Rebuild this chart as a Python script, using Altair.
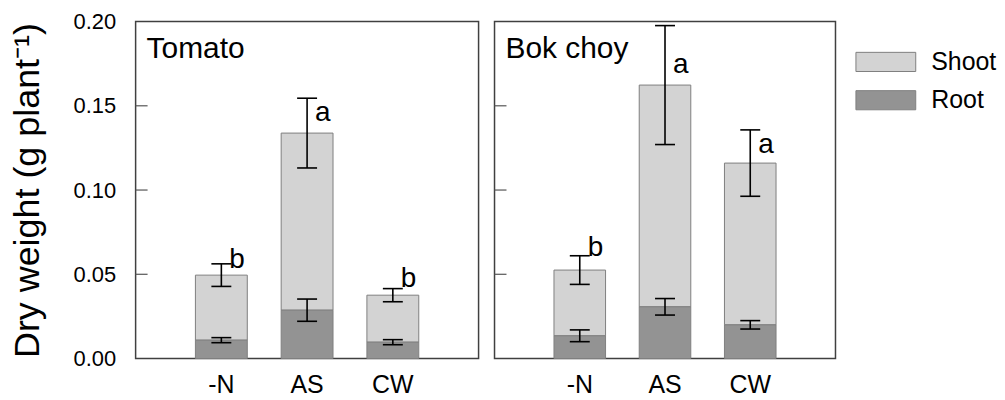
import altair as alt
import pandas as pd

treatments = ["-N", "AS", "CW"]
parts = ["Shoot", "Root"]
part_colors = ["#d3d3d3", "#939393"]

tomato_root = [0.0109, 0.0287, 0.0097]
tomato_root_se = [0.0015, 0.0066, 0.0015]
tomato_total = [0.0495, 0.1338, 0.0376]
tomato_total_se = [0.0067, 0.0207, 0.0039]
tomato_letters = ["b", "a", "b"]
tomato_letter_y = [0.054, 0.141, 0.0427]

bok_root = [0.0135, 0.0307, 0.0200]
bok_root_se = [0.0035, 0.0049, 0.0025]
bok_total = [0.0525, 0.1623, 0.1160]
bok_total_se = [0.0085, 0.0353, 0.0197]
bok_letters = ["b", "a", "a"]
bok_letter_y = [0.061, 0.1697, 0.1222]

y_ticks = [0.0, 0.05, 0.10, 0.15, 0.20]
inner_ticks = [0.05, 0.10, 0.15]

FONT = "Liberation Sans"


def panel(name, root, root_se, total, total_se, letters, letter_y, width, first):
    bars = pd.DataFrame({
        "treatment": treatments * 2,
        "part": ["Shoot"] * 3 + ["Root"] * 3,
        "lo": list(root) + [0.0, 0.0, 0.0],
        "hi": list(total) + list(root),
    })
    err_lo = [t - s for t, s in zip(total, total_se)] + [r - s for r, s in zip(root, root_se)]
    err_hi = [t + s for t, s in zip(total, total_se)] + [r + s for r, s in zip(root, root_se)]
    err = pd.DataFrame({"treatment": treatments * 2, "lo": err_lo, "hi": err_hi})
    caps = pd.DataFrame({"treatment": treatments * 4, "v": err_lo + err_hi})
    labs = pd.DataFrame({"treatment": treatments, "letter": letters, "y": letter_y})
    ticks = pd.DataFrame({"v": inner_ticks})
    title_df = pd.DataFrame({"crop": [name]})

    xscale = alt.Scale(domain=treatments, paddingInner=0.395, paddingOuter=0.6975)
    xaxis = alt.Axis(title=None, labelAngle=0, labelFontSize=25, ticks=False,
                     domain=False, labelPadding=14, labelColor="black", labelFont=FONT)
    x_enc = alt.X("treatment:N", sort=treatments, scale=xscale, axis=xaxis)

    yscale = alt.Scale(domain=[0, 0.2], nice=False, zero=True)
    if first:
        yaxis = alt.Axis(title="Dry weight (g plant⁻¹)", values=y_ticks, format=".2f",
                         tickSize=0, labelPadding=20, labelFontSize=22, grid=False,
                         domain=False, titleFontSize=36, titleFontWeight="normal",
                         titlePadding=27, labelColor="black", titleColor="black",
                         labelFont=FONT, titleFont=FONT)
    else:
        yaxis = None

    def Y(field):
        return alt.Y(field, scale=yscale, axis=yaxis)

    bar_layer = alt.Chart(bars).mark_bar(stroke="#7f7f7f", strokeWidth=1).encode(
        x=x_enc,
        y=Y("lo:Q"),
        y2="hi:Q",
        color=alt.Color("part:N", scale=alt.Scale(domain=parts, range=part_colors),
                        legend=alt.Legend(title=None, orient="none",
                                          legendX=737, legendY=25,
                                          symbolType="M-2,-0.64H2V0.64H-2Z",
                                          symbolSize=900, labelFontSize=25,
                                          labelOffset=30, rowPadding=9.4,
                                          padding=0, symbolStrokeColor="#7f7f7f",
                                          symbolStrokeWidth=1, symbolOpacity=1,
                                          labelFont=FONT, labelColor="black")),
    )
    rule_layer = alt.Chart(err).mark_rule(color="black", strokeWidth=1.6).encode(
        x=x_enc, y=Y("lo:Q"), y2="hi:Q")
    cap_layer = alt.Chart(caps).mark_tick(color="black", thickness=1.6, size=20,
                                          orient="horizontal", opacity=1).encode(
        x=x_enc, y=Y("v:Q"))
    letter_layer = alt.Chart(labs).mark_text(align="left", baseline="alphabetic", dx=8,
                                             fontSize=28, font=FONT, color="black").encode(
        x=x_enc, y=Y("y:Q"), text="letter:N")
    tick_layer = alt.Chart(ticks).mark_rule(color="#555555", strokeWidth=1.2).encode(
        y=Y("v:Q"), x=alt.value(0), x2=alt.value(12))
    name_layer = alt.Chart(title_df).mark_text(align="left", baseline="alphabetic",
                                               fontSize=30, font=FONT, color="black").encode(
        text="crop:N", x=alt.value(11), y=alt.value(36.5))

    return alt.layer(bar_layer, rule_layer, cap_layer, letter_layer, tick_layer,
                     name_layer).properties(width=width, height=338)


p1 = panel("Tomato", tomato_root, tomato_root_se, tomato_total, tomato_total_se,
           tomato_letters, tomato_letter_y, 344, True)
p2 = panel("Bok choy", bok_root, bok_root_se, bok_total, bok_total_se,
           bok_letters, bok_letter_y, 342, False)

chart = alt.hconcat(p1, p2, spacing=13).resolve_scale(color="shared").configure(
    font=FONT, padding={"left": 0, "top": 1, "right": 0, "bottom": 0}, background="white"
).configure_view(stroke="#404040", strokeWidth=1.5)

chart.save("out.html", embed_options={"renderer": "svg", "actions": False})
